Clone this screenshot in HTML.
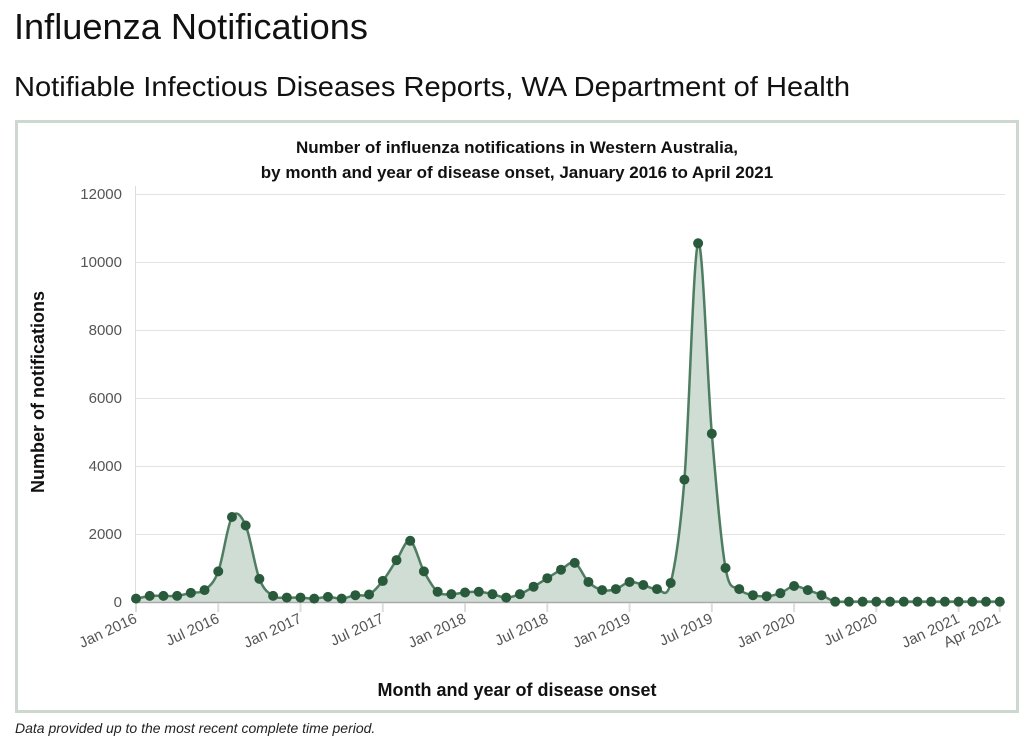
<!DOCTYPE html>
<html><head><meta charset="utf-8"><style>
body{margin:0;background:#fff;width:1024px;height:748px;overflow:hidden;font-family:"Liberation Sans",sans-serif}
</style></head><body>
<svg width="1024" height="748" xmlns="http://www.w3.org/2000/svg" font-family="Liberation Sans, sans-serif">
<text x="14" y="39" font-size="36" fill="#111" textLength="354" lengthAdjust="spacingAndGlyphs">Influenza Notifications</text>
<text x="14" y="96" font-size="28" fill="#111" textLength="836" lengthAdjust="spacingAndGlyphs">Notifiable Infectious Diseases Reports, WA Department of Health</text>
<rect x="16.5" y="121.5" width="1001" height="590" fill="#fff" stroke="#cdd8d0" stroke-width="3"/>
<text x="517" y="153" font-size="17" font-weight="bold" text-anchor="middle" fill="#111">Number of influenza notifications in Western Australia,</text>
<text x="517" y="178" font-size="17" font-weight="bold" text-anchor="middle" fill="#111">by month and year of disease onset, January 2016 to April 2021</text>
<g id="grid" stroke="#e3e3e3" stroke-width="1"></g>
<line x1="135.5" y1="186" x2="135.5" y2="602" stroke="#ddd"/>
<g id="yl" font-size="15" fill="#555" text-anchor="end"></g>
<path id="area" fill="#cfddd4"/>
<line x1="135" y1="602.5" x2="1005" y2="602.5" stroke="#aaa" stroke-width="1.5"/>
<g id="xt"></g>
<path id="line" fill="none" stroke="#4e7d61" stroke-width="2.5"/>
<g id="dots" fill="#2a5a3c"></g>
<text transform="translate(44,392) rotate(-90)" font-size="18" font-weight="bold" text-anchor="middle" fill="#111">Number of notifications</text>
<text x="517" y="696" font-size="18" font-weight="bold" text-anchor="middle" fill="#111">Month and year of disease onset</text>
<text x="15" y="733" font-size="14" font-style="italic" fill="#222">Data provided up to the most recent complete time period.</text>
</svg>
<script>
var d=[100,180,180,180,270,350,900,2500,2250,680,180,130,
130,100,150,100,200,220,620,1230,1800,900,300,230,
280,300,230,130,230,450,700,950,1150,590,350,380,
590,500,380,560,3600,10550,4950,1000,380,200,170,260,
470,350,200,10,10,10,10,10,10,10,10,10,10,10,10,10];
var X=i=>136+i*13.71,Y=v=>602-v*0.034,NS="http://www.w3.org/2000/svg";
function el(p,t,a,txt){var e=document.createElementNS(NS,t);for(var k in a)e.setAttribute(k,a[k]);if(txt)e.textContent=txt;document.getElementById(p).appendChild(e);}
for(var v=2000;v<=12000;v+=2000){el("grid","line",{x1:135,x2:1005,y1:Y(v)+.5,y2:Y(v)+.5});}
for(var v=0;v<=12000;v+=2000){el("yl","text",{x:122,y:Y(v)+5},String(v));}
var labs=[[0,"Jan 2016"],[6,"Jul 2016"],[12,"Jan 2017"],[18,"Jul 2017"],[24,"Jan 2018"],[30,"Jul 2018"],[36,"Jan 2019"],[42,"Jul 2019"],[48,"Jan 2020"],[54,"Jul 2020"],[60,"Jan 2021"],[63,"Apr 2021"]];
labs.forEach(l=>{var x=X(l[0]);el("xt","line",{x1:x,x2:x,y1:603,y2:612,stroke:"#ddd","stroke-width":2});
el("xt","text",{transform:"translate("+(x+2)+",622) rotate(-25)","text-anchor":"end","font-size":"15",fill:"#555"},l[1]);});
var n=d.length,xs=d.map((v,i)=>X(i)),ys=d.map(Y);
var p="M"+xs[0]+","+ys[0];
for(var i=0;i<n-1;i++){
 var y0=ys[Math.max(i-1,0)],y1=ys[i],y2=ys[i+1],y3=ys[Math.min(i+2,n-1)];
 var c1=Math.min(602,y1+(y2-y0)/6),c2=Math.min(602,y2-(y3-y1)/6);
 p+="C"+(xs[i]+4.57)+","+c1+" "+(xs[i+1]-4.57)+","+c2+" "+xs[i+1]+","+y2;}
document.getElementById("line").setAttribute("d",p);
document.getElementById("area").setAttribute("d",p+"L"+xs[n-1]+",602L"+xs[0]+",602Z");
d.forEach((v,i)=>el("dots","circle",{cx:xs[i],cy:ys[i],r:5}));
</script>
</body></html>
